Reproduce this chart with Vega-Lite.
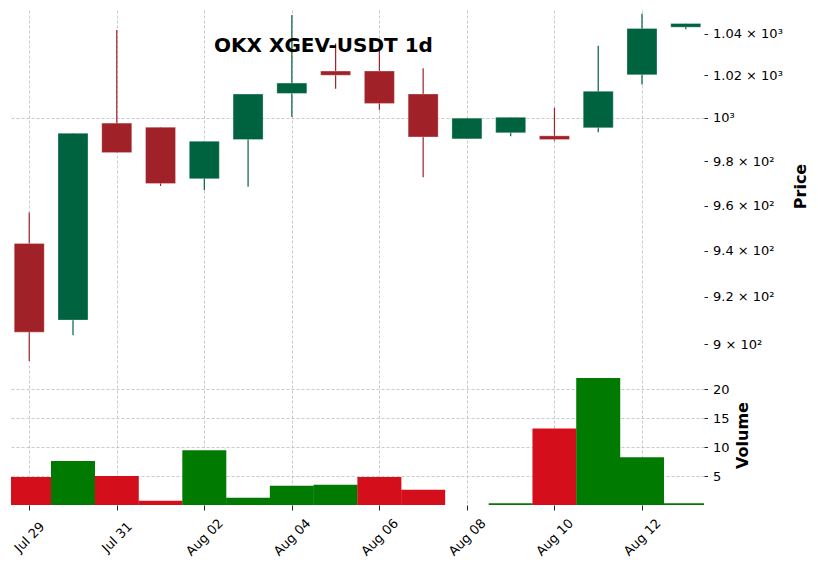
{
  "$schema": "https://vega.github.io/schema/vega-lite/v6.json",
  "description": "OKX XGEV-USDT 1d candlestick with volume",
  "padding": {"left": 11, "top": 10, "right": 5, "bottom": 5},
  "background": "white",
  "config": {
    "view": {"stroke": null},
    "font": "DejaVu Sans",
    "concat": {"spacing": 3},
    "axis": {
      "domain": false,
      "labelFont": "DejaVu Sans",
      "labelFontSize": 13,
      "labelColor": "#000000",
      "titleFont": "DejaVu Sans",
      "titleFontSize": 16,
      "titleFontWeight": "bold",
      "titleColor": "#000000",
      "tickColor": "#222222",
      "tickSize": 3.5,
      "gridColor": "#bdbdbd",
      "gridDash": [3, 2],
      "gridWidth": 0.8
    }
  },
  "data": {
    "values": [
      {"date": "2024-07-29", "open": 943.2, "high": 956.9, "low": 892.9, "close": 905.0, "volume": 4.85},
      {"date": "2024-07-30", "open": 910.1, "high": 992.9, "low": 903.7, "close": 992.9, "volume": 7.59},
      {"date": "2024-07-31", "open": 997.6, "high": 1041.8, "low": 984.0, "close": 984.0, "volume": 5.02},
      {"date": "2024-08-01", "open": 995.7, "high": 995.7, "low": 968.8, "close": 969.9, "volume": 0.74},
      {"date": "2024-08-02", "open": 972.1, "high": 989.2, "low": 967.0, "close": 989.2, "volume": 9.47},
      {"date": "2024-08-03", "open": 990.0, "high": 1011.2, "low": 968.5, "close": 1011.2, "volume": 1.25},
      {"date": "2024-08-04", "open": 1011.5, "high": 1049.1, "low": 1000.4, "close": 1016.4, "volume": 3.31},
      {"date": "2024-08-05", "open": 1022.1, "high": 1035.3, "low": 1013.7, "close": 1020.1, "volume": 3.48},
      {"date": "2024-08-06", "open": 1022.1, "high": 1033.0, "low": 1003.8, "close": 1006.8, "volume": 4.85},
      {"date": "2024-08-07", "open": 1011.2, "high": 1023.4, "low": 972.7, "close": 991.2, "volume": 2.62},
      {"date": "2024-08-08", "open": 990.3, "high": 999.9, "low": 990.3, "close": 999.9, "volume": 0},
      {"date": "2024-08-09", "open": 993.1, "high": 1000.3, "low": 991.5, "close": 1000.3, "volume": 0.32},
      {"date": "2024-08-10", "open": 991.7, "high": 1004.7, "low": 989.4, "close": 990.0, "volume": 13.23},
      {"date": "2024-08-11", "open": 995.4, "high": 1034.2, "low": 993.4, "close": 1012.5, "volume": 21.96},
      {"date": "2024-08-12", "open": 1020.3, "high": 1049.8, "low": 1015.7, "close": 1042.6, "volume": 8.27},
      {"date": "2024-08-13", "open": 1043.2, "high": 1045.0, "low": 1042.2, "close": 1045.0, "volume": 0.32}
    ]
  },
  "vconcat": [
    {
      "width": 693,
      "height": 352,
      "title": {
        "text": "OKX XGEV-USDT 1d",
        "font": "DejaVu Sans",
        "fontSize": 20,
        "fontWeight": "bold",
        "color": "#000000",
        "anchor": "middle",
        "dx": -34,
        "dy": 50
      },
      "encoding": {
        "x": {
          "field": "date",
          "type": "temporal",
          "scale": {
            "type": "utc",
            "nice": false,
            "padding": 0,
            "domain": [
              {"year": 2024, "month": 7, "date": 28, "hours": 14, "utc": true},
              {"year": 2024, "month": 8, "date": 13, "hours": 10, "utc": true}
            ]
          },
          "axis": {
            "values": [
              {"year": 2024, "month": 7, "date": 29, "utc": true},
              {"year": 2024, "month": 7, "date": 31, "utc": true},
              {"year": 2024, "month": 8, "date": 2, "utc": true},
              {"year": 2024, "month": 8, "date": 4, "utc": true},
              {"year": 2024, "month": 8, "date": 6, "utc": true},
              {"year": 2024, "month": 8, "date": 8, "utc": true},
              {"year": 2024, "month": 8, "date": 10, "utc": true},
              {"year": 2024, "month": 8, "date": 12, "utc": true}
            ],
            "labels": false,
            "ticks": false,
            "title": null,
            "grid": true
          }
        },
        "color": {
          "condition": {"test": "datum.close >= datum.open", "value": "#006340"},
          "value": "#a02128"
        }
      },
      "layer": [
        {
          "mark": {"type": "rule", "strokeWidth": 1.2},
          "encoding": {
            "y": {
              "field": "low",
              "type": "quantitative",
              "scale": {"type": "log", "domain": [892.5, 1051.6], "nice": false, "zero": false},
              "axis": {
                "orient": "right",
                "title": "Price",
                "titleAngle": 270,
                "titleBaseline": "top",
                "titlePadding": 10,
                "labelPadding": 5,
                "values": [900, 920, 940, 960, 980, 1000, 1020, 1040],
                "labelExpr": "datum.value == 1000 ? '10³' : (datum.value > 1000 ? format(datum.value / 1000, '.2f') + ' × 10³' : format(datum.value / 100, '.2~f') + ' × 10²')",
                "grid": true,
                "gridOpacity": {"condition": {"test": "datum.value == 1000", "value": 1}, "value": 0}
              }
            },
            "y2": {"field": "high"}
          }
        },
        {
          "mark": {"type": "bar", "width": 30, "stroke": "#ffffff", "strokeWidth": 0.6, "strokeOpacity": 0.5},
          "encoding": {
            "y": {"field": "open", "type": "quantitative"},
            "y2": {"field": "close"}
          }
        }
      ]
    },
    {
      "width": 693,
      "height": 140,
      "transform": [
        {"window": [{"op": "lag", "field": "close", "as": "prev_close"}], "sort": [{"field": "date"}]}
      ],
      "mark": {"type": "bar", "width": 44, "clip": true},
      "encoding": {
        "x": {
          "field": "date",
          "type": "temporal",
          "scale": {
            "type": "utc",
            "nice": false,
            "padding": 0,
            "domain": [
              {"year": 2024, "month": 7, "date": 28, "hours": 14, "utc": true},
              {"year": 2024, "month": 8, "date": 13, "hours": 10, "utc": true}
            ]
          },
          "axis": {
            "values": [
              {"year": 2024, "month": 7, "date": 29, "utc": true},
              {"year": 2024, "month": 7, "date": 31, "utc": true},
              {"year": 2024, "month": 8, "date": 2, "utc": true},
              {"year": 2024, "month": 8, "date": 4, "utc": true},
              {"year": 2024, "month": 8, "date": 6, "utc": true},
              {"year": 2024, "month": 8, "date": 8, "utc": true},
              {"year": 2024, "month": 8, "date": 10, "utc": true},
              {"year": 2024, "month": 8, "date": 12, "utc": true}
            ],
            "format": "%b %d",
            "labelAngle": -45,
            "labelAlign": "center",
            "labelBaseline": "middle",
            "labelPadding": 27,
            "tickSize": 5,
            "title": null,
            "grid": true
          }
        },
        "y": {
          "field": "volume",
          "type": "quantitative",
          "scale": {"domain": [0, 24.2], "nice": false},
          "axis": {
            "orient": "right",
            "title": "Volume",
            "titleAngle": 270,
            "titleBaseline": "top",
            "titlePadding": 5,
            "labelPadding": 5,
            "values": [5, 10, 15, 20],
            "grid": true
          }
        },
        "color": {
          "condition": {"test": "datum.prev_close != null && datum.close >= datum.prev_close", "value": "#007a00"},
          "value": "#d50e1c"
        }
      }
    }
  ]
}
